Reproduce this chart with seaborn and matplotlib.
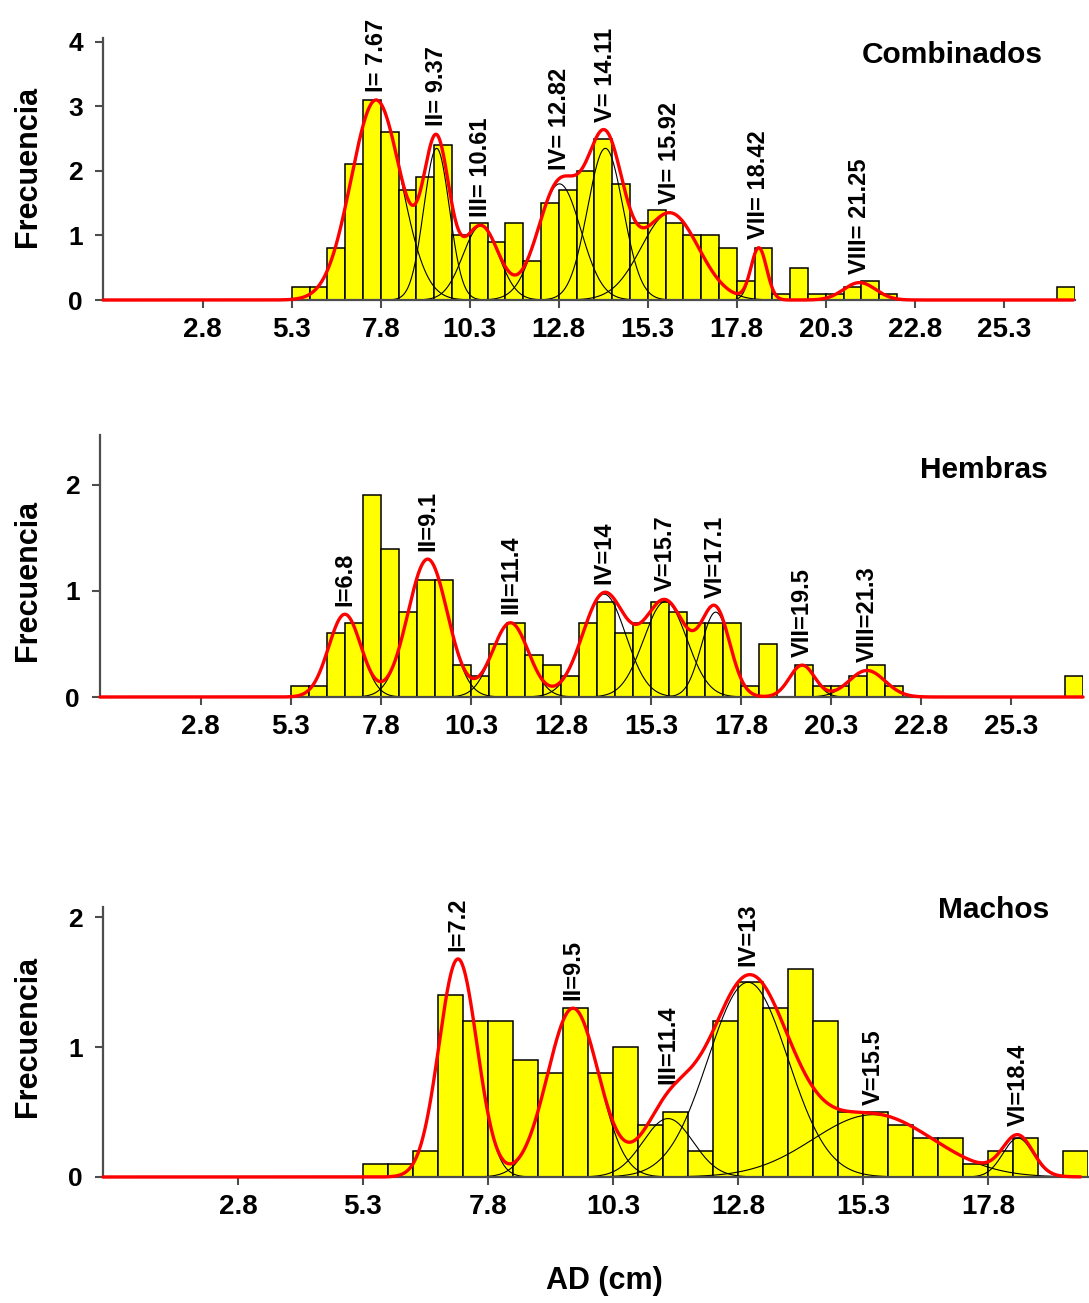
import numpy as np
import pandas as pd
import matplotlib
matplotlib.use("Agg")
import matplotlib.pyplot as plt
import seaborn as sns

sns.set_theme(style="white")
plt.rcParams['font.family'] = ['Liberation Sans', 'DejaVu Sans']
plt.rcParams['font.weight'] = 'bold'
plt.rcParams['text.color'] = 'black'
plt.rcParams['axes.labelcolor'] = 'black'
plt.rcParams['xtick.labelcolor'] = 'black'
plt.rcParams['ytick.labelcolor'] = 'black'

# ---------------- data ----------------
BIN_WIDTH = 0.5
FIRST_BIN = 5.3

# Combinados: frequencies for bins 5.3, 5.8, ... 26.8
comb_freq = [0.2, 0.2, 0.8, 2.1, 3.1, 2.6, 1.7, 1.9, 2.4, 1.0,
             1.2, 0.9, 1.2, 0.6, 1.5, 1.7, 2.0, 2.5, 1.8, 1.2,
             1.4, 1.2, 1.0, 1.0, 0.8, 0.3, 0.8, 0.1, 0.5, 0.1,
             0.1, 0.2, 0.3, 0.1, 0.0, 0.0, 0.0, 0.0, 0.0, 0.0,
             0.0, 0.0, 0.0, 0.2]
comb_means = [7.67, 9.37, 10.61, 12.82, 14.11, 15.92, 18.42, 21.25]
comb_amps = [3.10, 2.35, 1.15, 1.80, 2.35, 1.35, 0.80, 0.27]
comb_sds = [0.70, 0.36, 0.50, 0.60, 0.50, 0.80, 0.22, 0.45]
comb_labels = ["I= 7.67", "II= 9.37", "III= 10.61", "IV= 12.82",
               "V= 14.11", "VI= 15.92", "VII= 18.42", "VIII= 21.25"]

# Hembras
hem_freq = [0.1, 0.1, 0.6, 0.7, 1.9, 1.4, 0.8, 1.1, 1.1, 0.3,
            0.2, 0.5, 0.7, 0.4, 0.3, 0.2, 0.7, 0.9, 0.6, 0.7,
            0.9, 0.8, 0.7, 0.7, 0.7, 0.1, 0.5, 0.0, 0.3, 0.1,
            0.1, 0.2, 0.3, 0.1, 0.0, 0.0, 0.0, 0.0, 0.0, 0.0,
            0.0, 0.0, 0.0, 0.2]
hem_means = [6.8, 9.1, 11.4, 14.0, 15.7, 17.1, 19.5, 21.3]
hem_amps = [0.78, 1.30, 0.70, 0.97, 0.90, 0.80, 0.30, 0.25]
hem_sds = [0.45, 0.55, 0.50, 0.60, 0.60, 0.40, 0.35, 0.50]
hem_labels = ["I=6.8", "II=9.1", "III=11.4", "IV=14", "V=15.7",
              "VI=17.1", "VII=19.5", "VIII=21.3"]

# Machos: bins 5.3 ... 19.3
mac_freq = [0.1, 0.1, 0.2, 1.4, 1.2, 1.2, 0.9, 0.8, 1.3, 0.8,
            1.0, 0.4, 0.5, 0.2, 1.2, 1.5, 1.3, 1.6, 1.2, 0.5,
            0.5, 0.4, 0.3, 0.3, 0.1, 0.2, 0.3, 0.0, 0.2]
mac_means = [7.2, 9.5, 11.4, 13.0, 15.5, 18.4]
mac_amps = [1.68, 1.30, 0.45, 1.50, 0.48, 0.30]
mac_sds = [0.38, 0.51, 0.50, 0.80, 1.20, 0.30]
mac_labels = ["I=7.2", "II=9.5", "III=11.4", "IV=13", "V=15.5", "VI=18.4"]

wide_ticks = [2.8, 5.3, 7.8, 10.3, 12.8, 15.3, 17.8, 20.3, 22.8, 25.3]
narrow_ticks = [2.8, 5.3, 7.8, 10.3, 12.8, 15.3, 17.8]

AXIS_COLOR = '#4d4d4d'


def gauss(x, m, a, s):
    return a * np.exp(-0.5 * ((x - m) / s) ** 2)


def draw_panel(ax, freq, means, amps, sds, labels, xlim, curve_end, ylim,
               yticks, xticks, title, title_xy, ylabel_xy):
    n = len(freq)
    lefts = FIRST_BIN + BIN_WIDTH * np.arange(n)
    edges = [float(e) for e in FIRST_BIN + BIN_WIDTH * np.arange(n + 1)]
    df = pd.DataFrame({'x': lefts + BIN_WIDTH / 2, 'w': freq})
    sns.histplot(data=df, x='x', weights='w', bins=edges, color='#FFFF00',
                 edgecolor='black', linewidth=1.1, alpha=1, ax=ax, zorder=1)

    xs = np.linspace(xlim[0], curve_end, 2500)
    total = np.zeros_like(xs)
    for m, a, s in zip(means, amps, sds):
        total += gauss(xs, m, a, s)
        xc = np.linspace(m - 4 * s, m + 4 * s, 300)
        sns.lineplot(x=xc, y=gauss(xc, m, a, s), color='black', lw=0.8,
                     ax=ax, zorder=2)
    sns.lineplot(x=xs, y=total, color='#FF0000', lw=2.4, ax=ax, zorder=4,
                 clip_on=False)

    for m, lab in zip(means, labels):
        peak = np.interp(m, xs, total)
        ax.annotate(lab, xy=(m, peak), xytext=(0, 6), textcoords='offset points',
                    rotation=90, ha='center', va='bottom', fontsize=17,
                    fontweight='bold', color='black', annotation_clip=False)

    ax.set_xlim(*xlim)
    ax.set_ylim(*ylim)
    ax.set_xticks(xticks)
    ax.set_xticklabels([f"{t:.1f}" for t in xticks], fontsize=20, fontweight='bold',
                       color='black')
    ax.set_yticks(yticks)
    ax.set_yticklabels([str(t) for t in yticks], fontsize=19, fontweight='bold',
                       color='black')
    for side in ['top', 'right']:
        ax.spines[side].set_visible(False)
    for side in ['left', 'bottom']:
        ax.spines[side].set_color(AXIS_COLOR)
        ax.spines[side].set_linewidth(1.6)
    ax.tick_params(axis='x', direction='out', length=6, width=1.5,
                   color=AXIS_COLOR, labelcolor='black', pad=6.5, bottom=True)
    ax.tick_params(axis='y', direction='out', length=6, width=1.5,
                   color=AXIS_COLOR, labelcolor='black', pad=8.5, left=True)
    ax.set_ylabel('Frecuencia', fontsize=22, fontweight='bold', color='black')
    ax.yaxis.set_label_coords(*ylabel_xy)
    ax.set_xlabel('')
    ax.text(title_xy[0], title_xy[1], title, transform=ax.transAxes,
            ha='right', va='center', fontsize=21.5, fontweight='bold', color='black')
    ax.grid(False)


fig = plt.figure(figsize=(10.89, 13.03), dpi=100)
ax1 = fig.add_axes([0.09458, 0.76976, 0.89256, 0.20107])
ax2 = fig.add_axes([0.09183, 0.46508, 0.90266, 0.20107])
ax3 = fig.add_axes([0.09458, 0.09670, 0.90450, 0.20721])

draw_panel(ax1, comb_freq, comb_means, comb_amps, comb_sds, comb_labels,
           (0.0, 27.3), 27.25, (0, 4.06), [0, 1, 2, 3, 4], wide_ticks,
           'Combinados', (0.967, 0.935), (-0.062, 0.508))
draw_panel(ax2, hem_freq, hem_means, hem_amps, hem_sds, hem_labels,
           (0.0, 27.3), 27.3, (0, 2.47), [0, 1, 2], wide_ticks,
           'Hembras', (0.964, 0.866), (-0.058, 0.443))
draw_panel(ax3, mac_freq, mac_means, mac_amps, mac_sds, mac_labels,
           (0.1, 19.8), 19.65, (0, 2.08), [0, 1, 2], narrow_ticks,
           'Machos', (0.961, 0.989), (-0.061, 0.52))

ax3.set_xlabel('AD (cm)', fontsize=22, fontweight='bold', color='black')
ax3.xaxis.set_label_coords(0.509, -0.33)

fig.savefig('out.png', dpi=100)
